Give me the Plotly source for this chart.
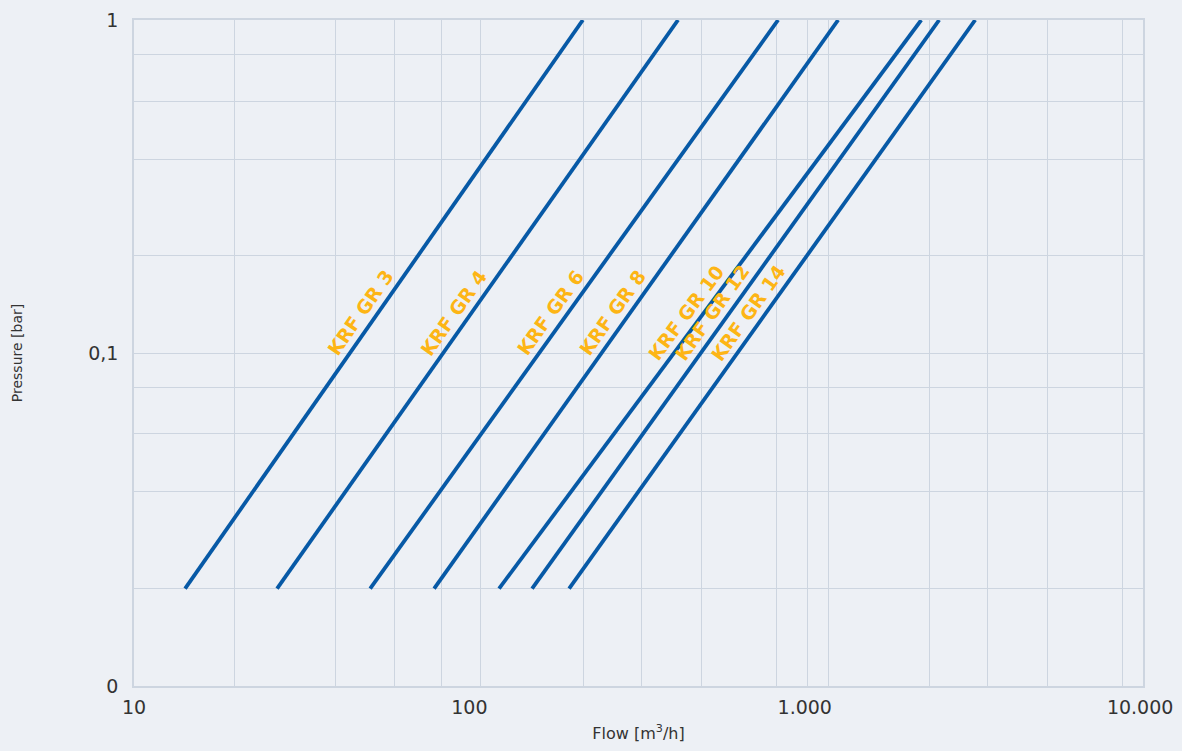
import math
import plotly.graph_objects as go

# ---- data ----
series_names = ["KRF GR 3", "KRF GR 4", "KRF GR 6", "KRF GR 8", "KRF GR 10", "KRF GR 12", "KRF GR 14"]
flow_start = [14.2, 26.7, 50.6, 78.5, 122.6, 153.8, 198.3]      # m3/h at low pressure
flow_end = [218, 419, 833, 1258, 2225, 2517, 3223]              # m3/h at 1 bar
pressure_start = 0.0196
pressure_end = 1.0
label_pressure = 0.132

x_tick_vals = [10, 100, 1000, 10000]
x_tick_text = ["10", "100", "1.000", "10.000"]
y_tick_vals = [0.01, 0.1, 1]
y_tick_text = ["0", "0,1", "1"]
x_grid_vals = [20, 40, 59.6, 82.3, 107.6, 218.3, 325.2, 491, 821.6, 1017, 1174, 2350, 3499, 5284, 8843]
y_grid_vals = [0.0196, 0.0385, 0.0575, 0.079, 0.1956, 0.382, 0.571, 0.79]

# ---- style ----
BG = "#EDF0F5"
GRID = "#CDD5E0"
LINE = "#0759A6"
LABEL = "#FDB515"
FONT = "DejaVu Sans"

W, H = 1182, 751
ML, MR, MT, MB = 134, 39, 20, 65
X_RANGE = [1, math.log10(10200)]
Y_RANGE = [-2, 0]
px_per_dec_x = (W - ML - MR) / (X_RANGE[1] - X_RANGE[0])
px_per_dec_y = (H - MT - MB) / (Y_RANGE[1] - Y_RANGE[0])

fig = go.Figure()
annotations = []
for name, f0, f1 in zip(series_names, flow_start, flow_end):
    fig.add_trace(go.Scatter(
        x=[f0, f1], y=[pressure_start, pressure_end], mode="lines",
        line=dict(color=LINE, width=3.8), name=name, showlegend=False,
        hoverinfo="x+y+name"))
    lx0, lx1 = math.log10(f0), math.log10(f1)
    ly0, ly1 = math.log10(pressure_start), math.log10(pressure_end)
    t = (math.log10(label_pressure) - ly0) / (ly1 - ly0)
    lx = lx0 + t * (lx1 - lx0)
    ang = math.degrees(math.atan(((ly1 - ly0) * px_per_dec_y) / ((lx1 - lx0) * px_per_dec_x)))
    annotations.append(dict(
        x=lx, y=math.log10(label_pressure), xref="x", yref="y",
        text="<b>" + name + "</b>", showarrow=False, textangle=-ang,
        xshift=-18, font=dict(family=FONT, size=19, color=LABEL)))

fig.update_layout(
    width=W, height=H,
    margin=dict(l=ML, r=MR, t=MT, b=MB),
    paper_bgcolor=BG, plot_bgcolor=BG,
    annotations=annotations,
    font=dict(family=FONT, color="#333333"),
    xaxis=dict(
        type="log", range=X_RANGE, tickvals=x_tick_vals, ticktext=x_tick_text,
        showgrid=False, zeroline=False, showline=True, mirror=True,
        linecolor=GRID, linewidth=1.5, ticks="", ticklabelstandoff=3,
        tickfont=dict(family=FONT, size=19, color="#333333"),
        minor=dict(tickvals=x_grid_vals, showgrid=True, gridcolor=GRID, gridwidth=1.4, ticks=""),
        title=dict(text="Flow [m<sup>3</sup>/h]", font=dict(family=FONT, size=16, color="#333333"), standoff=11),
        automargin=False,
    ),
    yaxis=dict(
        type="log", range=Y_RANGE, tickvals=y_tick_vals, ticktext=y_tick_text,
        showgrid=True, gridcolor=GRID, gridwidth=1.4, zeroline=False,
        showline=True, mirror=True, linecolor=GRID, linewidth=1.5,
        ticks="", ticklabelstandoff=10,
        tickfont=dict(family=FONT, size=19, color="#333333"),
        minor=dict(tickvals=y_grid_vals, showgrid=True, gridcolor=GRID, gridwidth=1.4, ticks=""),
        title=dict(text="Pressure [bar]", font=dict(family=FONT, size=14, color="#333333"), standoff=62),
        automargin=False,
    ),
)

fig.write_html(
    "out.html",
    config={"displayModeBar": False},
    post_script="document.body.style.margin='0';document.body.style.overflow='hidden';document.body.style.background='" + BG + "';",
)
